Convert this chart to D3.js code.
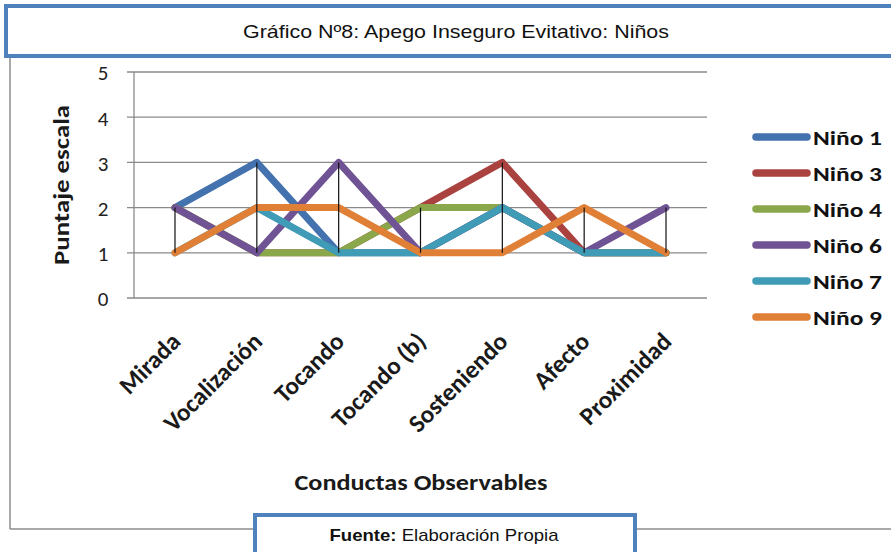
<!DOCTYPE html>
<html><head><meta charset="utf-8">
<script src="https://cdn.jsdelivr.net/npm/d3@7"></script>
<style>body{margin:0;background:#fff}svg{display:block}</style>
</head><body>
<script>
const categories = ["Mirada","Vocalización","Tocando","Tocando (b)","Sosteniendo","Afecto","Proximidad"];
const seriesNames = ["Niño 1","Niño 3","Niño 4","Niño 6","Niño 7","Niño 9"];
const nino1 = [2,3,1,1,2,1,1];
const nino3 = [2,1,1,2,3,1,1];
const nino4 = [2,1,1,2,2,1,1];
const nino6 = [2,1,3,1,2,1,2];
const nino7 = [1,2,1,1,2,1,1];
const nino9 = [1,2,2,1,1,2,1];
const seriesValues = [nino1,nino3,nino4,nino6,nino7,nino9];
const colors = ["#4472AE","#AA4340","#8AA84B","#6F5394","#3F9BB6","#E07F36"];
const yTicks = [0,1,2,3,4,5];
const title = "Gráfico Nº8: Apego Inseguro Evitativo: Niños";
const yTitle = "Puntaje escala";
const xTitle = "Conductas Observables";

const W=891,H=552;
const svg=d3.select("body").append("svg").attr("width",W).attr("height",H);
const calibri="Carlito, Lato, 'Open Sans', sans-serif";
const arial="'Liberation Sans', Arial, sans-serif";

// outer chart frame
svg.append("line").attr("x1",10).attr("x2",10).attr("y1",55).attr("y2",529).attr("stroke","#8c8c8c").attr("stroke-width",1.5);
svg.append("line").attr("x1",10).attr("x2",W).attr("y1",529).attr("y2",529).attr("stroke","#8c8c8c").attr("stroke-width",1.5);

const x=d3.scalePoint().domain(categories).range([175,666]);
const y=d3.scaleLinear().domain([0,5]).range([298,72]);
const left=134,right=707;

// gridlines
svg.append("g").selectAll("line").data(yTicks).join("line")
 .attr("x1",127).attr("x2",right).attr("y1",d=>y(d)).attr("y2",d=>y(d))
 .attr("stroke","#8a8a8a").attr("stroke-width",1.3);
svg.append("line").attr("x1",left).attr("x2",left).attr("y1",y(5)).attr("y2",y(0)).attr("stroke","#8a8a8a").attr("stroke-width",1.3);

// y tick labels
svg.append("g").selectAll("text").data(yTicks).join("text")
 .attr("x",103).attr("y",d=>y(d)).attr("dy","0.4em").attr("text-anchor","middle")
 .attr("font-family",calibri).attr("font-size",21).attr("fill","#222").text(d=>d);

// series lines
const line=d3.line().x((d,i)=>x(categories[i])).y(d=>y(d));
svg.append("g").selectAll("path").data(seriesValues).join("path")
 .attr("d",line).attr("fill","none").attr("stroke",(d,i)=>colors[i])
 .attr("stroke-width",7).attr("stroke-linejoin","round").attr("stroke-linecap","round");

// high-low lines
svg.append("g").selectAll("line").data(categories).join("line")
 .attr("x1",d=>x(d)).attr("x2",d=>x(d))
 .attr("y1",(d,i)=>y(d3.max(seriesValues,s=>s[i])))
 .attr("y2",(d,i)=>y(d3.min(seriesValues,s=>s[i])))
 .attr("stroke","#111").attr("stroke-width",1.2);

// x labels
svg.append("g").selectAll("text").data(categories).join("text")
 .attr("transform",d=>`translate(${x(d)+7},${343}) rotate(-45)`)
 .attr("text-anchor","end").attr("font-family",calibri).attr("font-weight","bold")
 .attr("font-size",25).attr("fill","#1a1a1a").text(d=>d);

// axis titles
svg.append("text").attr("transform","translate(69,185) rotate(-90)").attr("text-anchor","middle")
 .attr("font-family",calibri).attr("font-weight","bold").attr("font-size",22)
 .attr("textLength",160).attr("lengthAdjust","spacingAndGlyphs").attr("fill","#1a1a1a").text(yTitle);
svg.append("text").attr("x",421).attr("y",490).attr("text-anchor","middle")
 .attr("font-family",calibri).attr("font-weight","bold").attr("font-size",23)
 .attr("textLength",253).attr("lengthAdjust","spacingAndGlyphs").attr("fill","#1a1a1a").text(xTitle);

// legend
const lg=svg.append("g").selectAll("g").data(seriesNames).join("g")
 .attr("transform",(d,i)=>`translate(0,${137+i*36})`);
lg.append("line").attr("x1",756).attr("x2",807).attr("y1",0).attr("y2",0)
 .attr("stroke",(d,i)=>colors[i]).attr("stroke-width",7.5).attr("stroke-linecap","round");
lg.append("text").attr("x",813).attr("y",0).attr("dy","0.37em")
 .attr("font-family",calibri).attr("font-weight","bold").attr("font-size",21)
 .attr("textLength",69).attr("lengthAdjust","spacingAndGlyphs").attr("fill","#111").text(d=>d);

// title box
svg.append("rect").attr("x",6).attr("y",6).attr("width",W+10).attr("height",50)
 .attr("fill","#fff").attr("stroke","#4F81BD").attr("stroke-width",4);
svg.append("text").attr("x",456).attr("y",38).attr("text-anchor","middle")
 .attr("font-family",arial).attr("font-size",19).attr("textLength",426).attr("lengthAdjust","spacingAndGlyphs")
 .attr("fill","#111").text(title);

// footer box
svg.append("rect").attr("x",255).attr("y",515).attr("width",380).attr("height",50)
 .attr("fill","#fff").attr("stroke","#4F81BD").attr("stroke-width",4);
const ft=svg.append("text").attr("x",444).attr("y",541).attr("text-anchor","middle")
 .attr("font-family",arial).attr("font-size",17).attr("textLength",229).attr("lengthAdjust","spacingAndGlyphs").attr("fill","#111");
ft.append("tspan").attr("font-weight","bold").text("Fuente:");
ft.append("tspan").text(" Elaboración Propia");
</script>
</body></html>
